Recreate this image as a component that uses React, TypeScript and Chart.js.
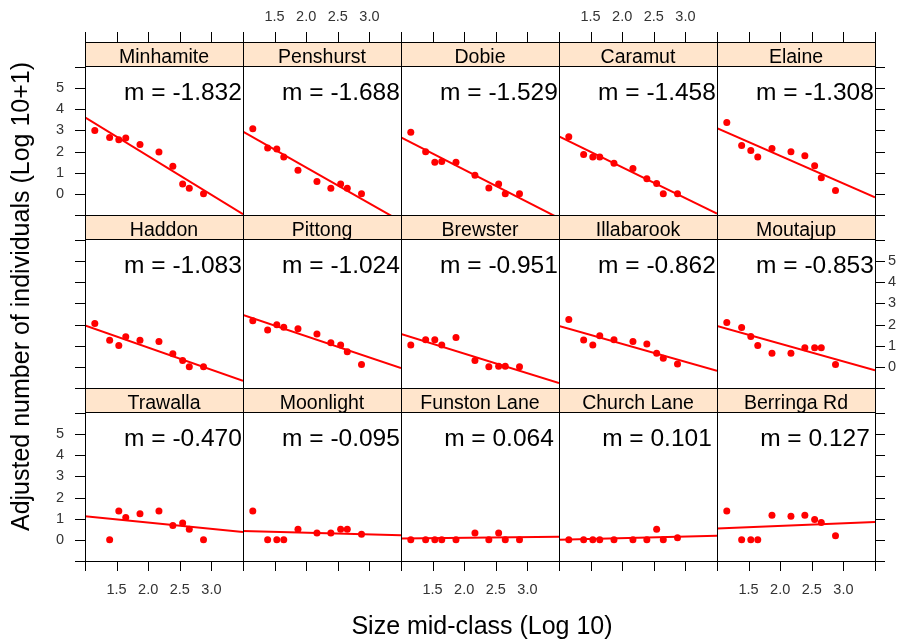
import React, { useEffect, useRef } from "react";
import { Chart, registerables } from "chart.js";

Chart.register(...registerables);

// ---------------- data ----------------
const sites = [
  "Minhamite", "Penshurst", "Dobie", "Caramut", "Elaine",
  "Haddon", "Pittong", "Brewster", "Illabarook", "Moutajup",
  "Trawalla", "Moonlight", "Funston Lane", "Church Lane", "Berringa Rd",
];

const slopeLabels = [
  "-1.832", "-1.688", "-1.529", "-1.458", "-1.308",
  "-1.083", "-1.024", "-0.951", "-0.862", "-0.853",
  "-0.470", "-0.095", "0.064", "0.101", "0.127",
];

// size mid-class (log10), shared by all sites
const sizeMidClass = [1.155, 1.39, 1.535, 1.645, 1.87, 2.17, 2.39, 2.545, 2.65, 2.875];

// adjusted number of individuals (log10 + 1)
const minhamite = [3.0, 2.67, 2.56, 2.64, 2.34, 1.98, 1.31, 0.47, 0.27, 0.0];
const penshurst = [3.08, 2.17, 2.12, 1.74, 1.12, 0.58, 0.27, 0.47, 0.27, 0.0];
const dobie = [2.91, 1.99, 1.5, 1.53, 1.5, 0.88, 0.28, 0.47, 0.0, 0.0];
const caramut = [2.7, 1.86, 1.75, 1.75, 1.45, 1.2, 0.71, 0.49, 0.0, 0.0];
const elaine = [3.38, 2.29, 2.05, 1.75, 2.15, 1.99, 1.8, 1.33, 0.76, 0.16];
const haddon = [2.05, 1.26, 1.01, 1.42, 1.26, 1.2, 0.62, 0.3, 0.0, 0.0];
const pittong = [2.18, 1.74, 1.99, 1.88, 1.8, 1.56, 1.14, 1.04, 0.71, 0.11];
const brewster = [1.03, 1.28, 1.28, 1.03, 1.39, 0.3, 0.0, 0.03, 0.03, 0.0];
const illabarook = [2.24, 1.27, 1.03, 1.47, 1.28, 1.2, 1.08, 0.65, 0.41, 0.13];
const moutajup = [2.1, 1.86, 1.44, 1.01, 0.65, 0.65, 0.91, 0.91, 0.91, 0.11];
const trawalla = [null, 0.0, 1.36, 1.06, 1.23, 1.36, 0.68, 0.8, 0.5, 0.0];
const moonlight = [1.36, 0.0, 0.0, 0.0, 0.5, 0.33, 0.33, 0.5, 0.5, 0.27];
const funstonLane = [0.0, 0.0, 0.0, 0.0, 0.0, 0.33, 0.0, 0.33, 0.0, 0.0];
const churchLane = [0.0, 0.0, 0.0, 0.0, 0.0, 0.0, 0.0, 0.5, 0.0, 0.1];
const berringaRd = [1.36, 0.0, 0.0, 0.0, 1.17, 1.12, 1.17, 0.96, 0.82, 0.2];

const siteValues: (number | null)[][] = [
  minhamite, penshurst, dobie, caramut, elaine,
  haddon, pittong, brewster, illabarook, moutajup,
  trawalla, moonlight, funstonLane, churchLane, berringaRd,
];

// fitted line: value at x = 1.0 and at x = 3.5
const fitStart = [3.62, 2.95, 2.67, 2.72, 3.11, 1.96, 2.46, 1.56, 1.94, 1.93, 1.12, 0.42, 0.07, 0.0, 0.54];
const fitEnd = [-0.96, -1.3, -1.15, -0.93, -0.16, -0.66, -0.06, -0.77, -0.19, -0.16, 0.37, 0.22, 0.15, 0.2, 0.85];

const xTicks = [1.0, 1.5, 2.0, 2.5, 3.0, 3.5];
const xTickLabels = ["", "1.5", "2.0", "2.5", "3.0", ""];
const yTicks = [-1, 0, 1, 2, 3, 4, 5, 6];
const yTickLabels = ["", "0", "1", "2", "3", "4", "5", ""];

const X_MIN = 1.0, X_MAX = 3.5, Y_MIN = -1.0, Y_MAX = 6.05;

// ---------------- layout ----------------
const W = 900, H = 640;
const FONT = '"Liberation Sans", Arial, Helvetica, sans-serif';
const COL_LEFT = 84.6, COL_W = 158.1;
const ROW_TOP = 42, ROW_PITCH = 173.1, STRIP_H = 24;
const TICK = 10;

const colX = (c: number) => Math.round(COL_LEFT + c * COL_W);
const rowY = (r: number) => Math.round(ROW_TOP + r * ROW_PITCH);

function makePanelPlugin(idx: number) {
  const r = Math.floor(idx / 5);
  const c = idx % 5;
  return {
    id: "panel" + idx,
    beforeDatasetsDraw(chart: any) {
      const { ctx, chartArea: a, scales } = chart;
      const xs = scales.x, ys = scales.y;
      ctx.save();
      ctx.beginPath();
      ctx.rect(a.left, a.top, a.right - a.left, a.bottom - a.top);
      ctx.clip();
      ctx.font = `24.5px ${FONT}`;
      ctx.fillStyle = "#000";
      ctx.textAlign = "center";
      ctx.textBaseline = "alphabetic";
      ctx.fillText("m = " + slopeLabels[idx], xs.getPixelForValue(2.55), ys.getPixelForValue(4.45));
      ctx.restore();
    },
    afterDatasetsDraw(chart: any) {
      const { ctx, chartArea: a, scales } = chart;
      const xs = scales.x, ys = scales.y;
      const stripTop = a.top - STRIP_H;
      ctx.save();
      // strip
      ctx.fillStyle = "#FFE5CC";
      ctx.fillRect(a.left, stripTop, a.right - a.left, STRIP_H);
      ctx.strokeStyle = "#000";
      ctx.lineWidth = 1;
      ctx.strokeRect(a.left + 0.5, stripTop + 0.5, a.right - a.left, STRIP_H);
      ctx.strokeRect(a.left + 0.5, a.top + 0.5, a.right - a.left, a.bottom - a.top);
      ctx.fillStyle = "#000";
      ctx.font = `19.5px ${FONT}`;
      ctx.textAlign = "center";
      ctx.textBaseline = "alphabetic";
      ctx.fillText(sites[idx], (a.left + a.right) / 2, a.top - 3);

      // ticks
      ctx.beginPath();
      if (r === 0) {
        xTicks.forEach((v) => {
          const px = Math.round(xs.getPixelForValue(v)) + 0.5;
          ctx.moveTo(px, stripTop);
          ctx.lineTo(px, stripTop - TICK);
        });
      }
      if (r === 2) {
        xTicks.forEach((v) => {
          const px = Math.round(xs.getPixelForValue(v)) + 0.5;
          ctx.moveTo(px, a.bottom);
          ctx.lineTo(px, a.bottom + TICK);
        });
      }
      if (c === 0) {
        yTicks.forEach((v) => {
          const py = Math.round(ys.getPixelForValue(v)) + 0.5;
          ctx.moveTo(a.left, py);
          ctx.lineTo(a.left - TICK, py);
        });
      }
      if (c === 4) {
        yTicks.forEach((v) => {
          const py = Math.round(ys.getPixelForValue(v)) + 0.5;
          ctx.moveTo(a.right, py);
          ctx.lineTo(a.right + TICK, py);
        });
      }
      ctx.stroke();

      // tick labels
      ctx.fillStyle = "#333";
      ctx.font = `14.5px ${FONT}`;
      ctx.textBaseline = "middle";
      if (r === 0 && c % 2 === 1) {
        ctx.textAlign = "center";
        xTicks.forEach((v, i) => ctx.fillText(xTickLabels[i], xs.getPixelForValue(v), stripTop - 25));
      }
      if (r === 2 && c % 2 === 0) {
        ctx.textAlign = "center";
        xTicks.forEach((v, i) => ctx.fillText(xTickLabels[i], xs.getPixelForValue(v), a.bottom + 29));
      }
      if (c === 0 && r !== 1) {
        ctx.textAlign = "right";
        yTicks.forEach((v, i) => ctx.fillText(yTickLabels[i], a.left - 21, ys.getPixelForValue(v)));
      }
      if (c === 4 && r === 1) {
        ctx.textAlign = "left";
        yTicks.forEach((v, i) => ctx.fillText(yTickLabels[i], a.right + 13, ys.getPixelForValue(v)));
      }

      // axis titles (drawn once)
      if (idx === 0) {
        ctx.fillStyle = "#000";
        ctx.font = `25px ${FONT}`;
        ctx.textAlign = "center";
        ctx.textBaseline = "middle";
        ctx.fillText("Size mid-class (Log 10)", (colX(0) + colX(5)) / 2 + 2, 627);
        ctx.save();
        ctx.translate(22, (rowY(0) + rowY(3)) / 2 - 5);
        ctx.rotate(-Math.PI / 2);
        ctx.fillText("Adjusted number of individuals (Log 10+1)", 0, 0);
        ctx.restore();
      }
      ctx.restore();
    },
  };
}

export default function App() {
  const refs = useRef<(HTMLCanvasElement | null)[]>([]);

  useEffect(() => {
    document.body.style.margin = "0";
    const charts: Chart[] = [];
    sites.forEach((_, idx) => {
      const canvas = refs.current[idx];
      if (!canvas) return;
      const r = Math.floor(idx / 5);
      const c = idx % 5;
      const left = colX(c);
      const right = colX(c + 1);
      const top = rowY(r) + STRIP_H;
      const bottom = rowY(r + 1);
      const points = siteValues[idx]
        .map((v, i) => ({ x: sizeMidClass[i], y: v }))
        .filter((p) => p.y !== null) as { x: number; y: number }[];
      const chart = new Chart(canvas, {
        type: "scatter",
        data: {
          datasets: [
            {
              type: "line",
              data: [
                { x: X_MIN, y: fitStart[idx] },
                { x: X_MAX, y: fitEnd[idx] },
              ],
              borderColor: "#FF0000",
              borderWidth: 2,
              pointRadius: 0,
              fill: false,
              clip: 0,
              order: 2,
            } as any,
            {
              type: "scatter",
              data: points,
              backgroundColor: "#FF0000",
              borderWidth: 0,
              pointRadius: 3.5,
              order: 1,
            } as any,
          ],
        },
        options: {
          animation: false,
          responsive: false,
          maintainAspectRatio: false,
          devicePixelRatio: 1,
          events: [],
          layout: {
            padding: { left, top, right: W - right, bottom: H - bottom },
          },
          plugins: { legend: { display: false }, tooltip: { enabled: false } },
          scales: {
            x: { type: "linear", min: X_MIN, max: X_MAX, display: false },
            y: { type: "linear", min: Y_MIN, max: Y_MAX, display: false },
          },
        },
        plugins: [makePanelPlugin(idx)],
      });
      charts.push(chart);
    });
    return () => charts.forEach((ch) => ch.destroy());
  }, []);

  return (
    <div style={{ position: "fixed", left: 0, top: 0, width: W, height: H, background: "#fff", overflow: "hidden" }}>
      {sites.map((s, idx) => (
        <canvas
          key={s}
          ref={(el) => { refs.current[idx] = el; }}
          width={W}
          height={H}
          style={{ position: "absolute", left: 0, top: 0, width: W, height: H }}
        />
      ))}
    </div>
  );
}
